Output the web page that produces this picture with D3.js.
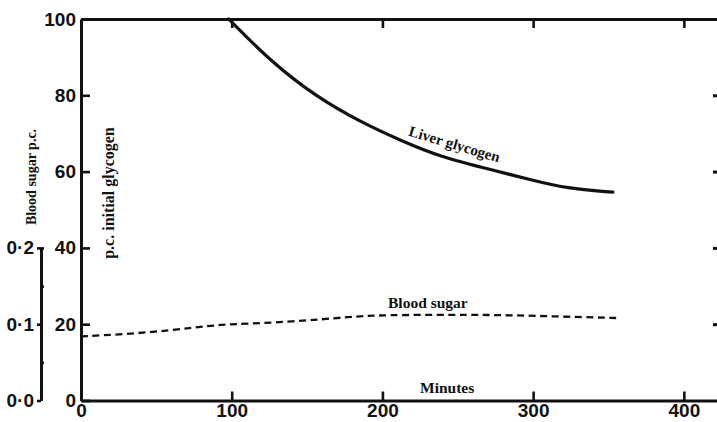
<!DOCTYPE html>
<html>
<head>
<meta charset="utf-8">
<script src="https://cdn.jsdelivr.net/npm/d3@7/dist/d3.min.js"></script>
<style>
  html, body { margin: 0; padding: 0; background: #fff; }
  svg { display: block; }
  .num { font-family: "Liberation Sans", Arial, sans-serif; font-weight: bold; font-size: 19px; fill: #111; }
  .lbl { font-family: "Liberation Serif", "Times New Roman", serif; font-weight: bold; fill: #111; }
</style>
</head>
<body>
<svg id="chart" width="717" height="422"></svg>
<script>
// Liver glycogen (per cent of initial) against time in minutes
const glycogenMinutes = [98, 125, 156, 187, 212, 238, 273, 300, 322, 353];
const glycogenPct     = [100, 89.2, 79.6, 72.7, 68.2, 63.9, 60.4, 57.7, 55.6, 54.6];

// Blood sugar (g per 100 ml) against time in minutes
const sugarMinutes = [0, 30, 60, 85, 100, 140, 180, 200, 250, 280, 320, 358];
const sugarPct     = [0.084, 0.087, 0.092, 0.098, 0.100, 0.103, 0.110, 0.112, 0.1125, 0.112, 0.110, 0.108];

// Axis ticks
const minuteTicks   = [0, 100, 200, 300, 400];
const glycogenTicks = [0, 20, 40, 60, 80, 100];
const sugarTicks    = [0, 0.1, 0.2];
const sugarMinor    = [0.05, 0.15];

const svg = d3.select("#chart");
const ink = "#111";

const x  = d3.scaleLinear().domain([0, 422]).range([81, 717]);
const y  = d3.scaleLinear().domain([0, 100]).range([400.5, 19]);
const yb = d3.scaleLinear().domain([0, 0.2]).range([y(0), y(40)]);

function styleAxis(g, width) {
  g.selectAll("path.domain").attr("stroke", ink).attr("stroke-width", width);
  g.selectAll(".tick line").attr("stroke", ink).attr("stroke-width", 2.6);
  g.selectAll(".tick text").attr("class", "num").attr("font-family", null).attr("font-size", null);
}

// bottom axis (minutes)
svg.append("g")
  .attr("transform", `translate(0,${y(0)})`)
  .call(d3.axisBottom(x).tickValues(minuteTicks).tickSizeInner(-9).tickSizeOuter(0).tickPadding(3))
  .call(g => styleAxis(g, 3));

// top frame line
svg.append("g")
  .attr("transform", `translate(0,${y(100)})`)
  .call(d3.axisTop(x).tickValues(minuteTicks.slice(1)).tickSizeInner(-9).tickSizeOuter(0).tickFormat(""))
  .call(g => styleAxis(g, 3));

// left axis (p.c. initial glycogen)
svg.append("g")
  .attr("transform", `translate(${x(0)},0)`)
  .call(d3.axisLeft(y).tickValues(glycogenTicks).tickSizeInner(-9).tickSizeOuter(0).tickPadding(5))
  .call(g => styleAxis(g, 3));

// right-hand tick marks
svg.append("g")
  .attr("transform", `translate(717,0)`)
  .call(d3.axisRight(y).tickValues([20, 40, 60, 80]).tickSizeInner(-4).tickSizeOuter(0).tickFormat(""))
  .call(g => { styleAxis(g, 0); g.select("path.domain").remove(); g.selectAll(".tick line").attr("stroke-width", 3); });

// blood sugar axis
const sugarAxisX = 41;
svg.append("g")
  .attr("transform", `translate(${sugarAxisX},0)`)
  .call(d3.axisLeft(yb).tickValues(sugarTicks).tickSizeInner(4).tickSizeOuter(0).tickPadding(3)
    .tickFormat(d => d3.format(".1f")(d).replace(".", "\u00B7")))
  .call(g => styleAxis(g, 3));
svg.append("g")
  .attr("transform", `translate(${sugarAxisX},0)`)
  .call(d3.axisRight(yb).tickValues(sugarMinor.concat([0.2])).tickSizeInner(3).tickSizeOuter(0).tickFormat(""))
  .call(g => { styleAxis(g, 0); g.select("path.domain").remove(); });

// liver glycogen curve
const glyData = glycogenMinutes.map((m, i) => [m, glycogenPct[i]]);
svg.append("path")
  .datum(glyData)
  .attr("fill", "none")
  .attr("stroke", ink)
  .attr("stroke-width", 3.2)
  .attr("stroke-linecap", "round")
  .attr("d", d3.line().x(d => x(d[0])).y(d => y(d[1])).curve(d3.curveBasis));

// blood sugar curve
const sugData = sugarMinutes.map((m, i) => [m, sugarPct[i]]);
svg.append("path")
  .datum(sugData)
  .attr("fill", "none")
  .attr("stroke", ink)
  .attr("stroke-width", 2.3)
  .attr("stroke-dasharray", "7,4.5")
  .attr("d", d3.line().x(d => x(d[0])).y(d => yb(d[1])).curve(d3.curveBasis));

// labels
svg.append("text").attr("class", "lbl").attr("font-size", 15)
  .attr("text-anchor", "middle")
  .attr("transform", "translate(453,149) rotate(16.6)")
  .text("Liver glycogen");

svg.append("text").attr("class", "lbl").attr("font-size", 15.5)
  .attr("x", 388).attr("y", 308)
  .text("Blood sugar");

svg.append("text").attr("class", "lbl").attr("font-size", 15.5)
  .attr("x", 420).attr("y", 393)
  .text("Minutes");

svg.append("text").attr("class", "lbl").attr("font-size", 14)
  .attr("text-anchor", "middle")
  .attr("transform", "translate(36,177) rotate(-90)")
  .text("Blood sugar p.c.");

svg.append("text").attr("class", "lbl").attr("font-size", 16)
  .attr("text-anchor", "middle")
  .attr("transform", "translate(114,193) rotate(-90)")
  .text("p.c. initial glycogen");
</script>
</body>
</html>
